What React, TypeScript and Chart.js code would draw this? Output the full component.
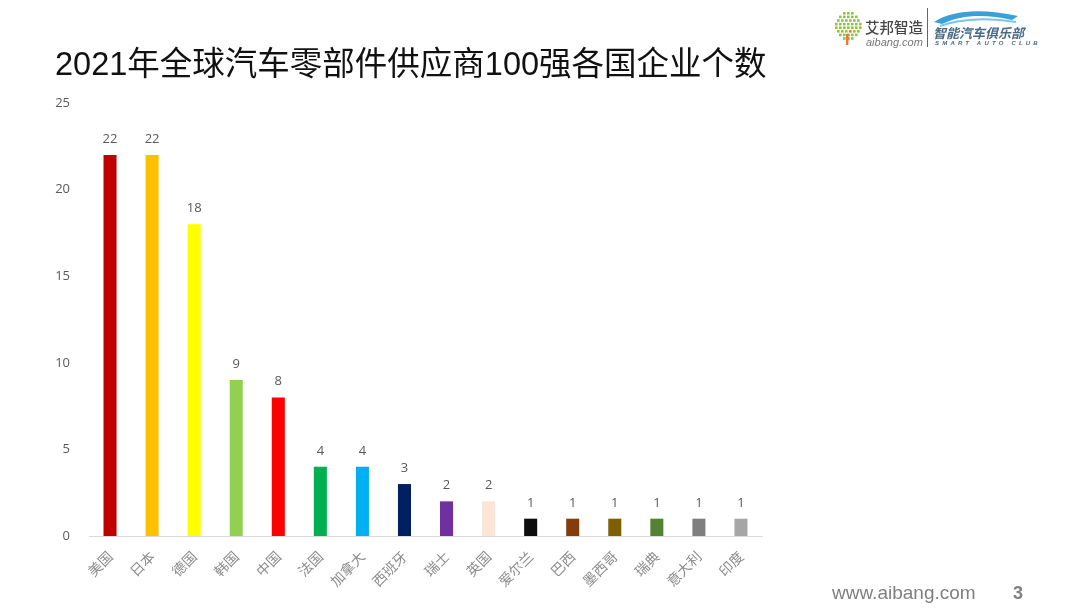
import React, { useEffect, useRef } from "react";
import { Chart, registerables } from "chart.js";

Chart.register(...registerables);

const categories = ["美国", "日本", "德国", "韩国", "中国", "法国", "加拿大", "西班牙", "瑞士", "英国", "爱尔兰", "巴西", "墨西哥", "瑞典", "意大利", "印度"];
const counts = [22, 22, 18, 9, 8, 4, 4, 3, 2, 2, 1, 1, 1, 1, 1, 1];
const barColors = ["#C00000", "#FFC000", "#FFFF00", "#92D050", "#FF0000", "#00B050", "#00B0F0", "#002060", "#7030A0", "#FBE5D6", "#0D0D0D", "#843C0C", "#7F6000", "#548235", "#7F7F7F", "#A6A6A6"];
const yMin = 0;
const yMax = 25;
const yStep = 5;

const titleText = "2021年全球汽车零部件供应商100强各国企业个数";

const valueLabels = {
  id: "valueLabels",
  afterDatasetsDraw(chart: any) {
    const ctx = chart.ctx;
    const meta = chart.getDatasetMeta(0);
    const data = chart.data.datasets[0].data;
    ctx.save();
    ctx.font = '13px "Open Sans", "Liberation Sans", sans-serif';
    ctx.fillStyle = "#595959";
    ctx.textAlign = "center";
    ctx.textBaseline = "alphabetic";
    meta.data.forEach((el: any, i: number) => {
      ctx.fillText(String(data[i]), el.x, el.y - 12);
    });
    ctx.restore();
  },
};

function TreeIcon() {
  const rows = [3, 5, 6, 7, 7, 6, 5, 3];
  const dots: any[] = [];
  rows.forEach((n, r) => {
    for (let c = 0; c < n; c++) {
      const x = 14 - (n - 1) * 2 + c * 4;
      const y = r * 3.6;
      const isTrunk = c === Math.floor(n / 2) && r > 4;
      dots.push(
        <rect key={r + "-" + c} x={x} y={y} width={2.6} height={2.6} fill={isTrunk ? "#e07b39" : "#8cc63f"} />
      );
    }
  });
  return (
    <svg width={30} height={34} style={{ position: "absolute", left: 833, top: 12 }}>
      {dots}
      <rect x={13} y={22} width={2.4} height={11} fill="#e07b39" />
    </svg>
  );
}

export default function App() {
  const canvasRef = useRef<HTMLCanvasElement | null>(null);

  useEffect(() => {
    if (!canvasRef.current) return;
    const chart = new Chart(canvasRef.current, {
      type: "bar",
      data: {
        labels: categories,
        datasets: [
          {
            data: counts,
            backgroundColor: barColors,
            borderWidth: 0,
            barPercentage: 0.31,
            categoryPercentage: 1,
          },
        ],
      },
      options: {
        responsive: false,
        animation: false,
        layout: { padding: { top: 103, right: 319, bottom: 0, left: 0 } },
        plugins: {
          legend: { display: false },
          tooltip: { enabled: false },
          title: { display: false },
        },
        scales: {
          x: {
            grid: { display: false },
            border: { display: true, color: "#d9d9d9", width: 1 },
            ticks: {
              maxRotation: 45,
              minRotation: 45,
              padding: 4,
              color: "#8c8c8c",
              font: { size: 14, family: '"Noto Sans CJK SC", sans-serif' },
            },
            afterFit: (scale: any) => {
              scale.height = 75;
            },
          },
          y: {
            min: yMin,
            max: yMax,
            grid: { display: false },
            border: { display: false },
            ticks: {
              stepSize: yStep,
              padding: 11,
              color: "#595959",
              font: { size: 13, family: '"Open Sans", "Liberation Sans", sans-serif' },
            },
            afterFit: (scale: any) => {
              scale.width = 89;
            },
          },
        },
      },
      plugins: [valueLabels],
    });
    return () => chart.destroy();
  }, []);

  return (
    <div style={{ position: "fixed", left: 0, top: 0, width: 1081, height: 611, background: "#ffffff", overflow: "hidden" }}>
      <canvas ref={canvasRef} width={1081} height={611} style={{ position: "absolute", left: 0, top: 0 }} />
      <div
        style={{
          position: "absolute",
          left: 55,
          top: 44,
          fontSize: 32.5,
          lineHeight: "40px",
          color: "#111111",
          fontFamily: '"Liberation Sans", "Noto Sans CJK SC", sans-serif',
          whiteSpace: "nowrap",
        }}
      >
        {titleText}
      </div>
      <TreeIcon />
      <div style={{ position: "absolute", left: 865, top: 18, fontSize: 14.5, lineHeight: "18px", color: "#444", fontFamily: '"Noto Sans CJK SC", sans-serif', fontWeight: 500, whiteSpace: "nowrap" }}>
        艾邦智造
      </div>
      <div style={{ position: "absolute", left: 866, top: 36, fontSize: 11, lineHeight: "13px", color: "#777", fontFamily: '"Liberation Sans", sans-serif', fontStyle: "italic", whiteSpace: "nowrap" }}>
        aibang.com
      </div>
      <div style={{ position: "absolute", left: 927, top: 8, width: 1, height: 39, background: "#666" }} />
      <svg width={90} height={20} style={{ position: "absolute", left: 932, top: 8 }}>
        <path d="M2 14 C 20 2, 50 0, 86 8 L 80 12 C 55 6, 30 6, 10 16 Z" fill="#3aa0d8" />
        <path d="M8 18 C 30 10, 60 10, 84 14" stroke="#7cc4ea" strokeWidth={2} fill="none" />
      </svg>
      <div style={{ position: "absolute", left: 933, top: 25, fontSize: 13, lineHeight: "15px", color: "#4a6a86", fontFamily: '"Noto Sans CJK SC", sans-serif', fontWeight: 700, fontStyle: "italic", whiteSpace: "nowrap" }}>
        智能汽车俱乐部
      </div>
      <div style={{ position: "absolute", left: 935, top: 40, fontSize: 6, lineHeight: "7px", letterSpacing: 3.2, color: "#4a6a86", fontFamily: '"Liberation Sans", sans-serif', fontWeight: 700, fontStyle: "italic", whiteSpace: "nowrap" }}>
        SMART AUTO CLUB
      </div>
      <div style={{ position: "absolute", left: 832, top: 582, fontSize: 19, lineHeight: "22px", color: "#7f7f7f", fontFamily: '"Liberation Sans", sans-serif', whiteSpace: "nowrap" }}>
        www.aibang.com
      </div>
      <div style={{ position: "absolute", left: 1013, top: 582, fontSize: 18, lineHeight: "22px", color: "#7f7f7f", fontFamily: '"Liberation Sans", sans-serif', fontWeight: 700, whiteSpace: "nowrap" }}>
        3
      </div>
    </div>
  );
}
